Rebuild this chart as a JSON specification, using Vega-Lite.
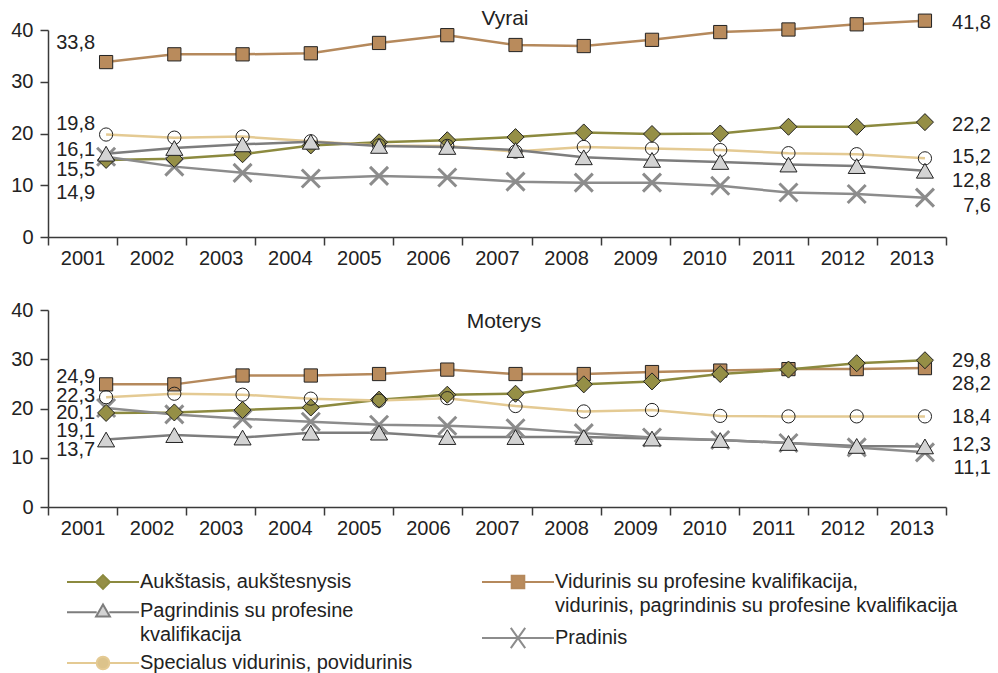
{
  "$schema": "https://vega.github.io/schema/vega-lite/v6.json",
  "padding": {"left": 10, "top": 8, "right": 5, "bottom": 0},
  "bounds": "flush",
  "spacing": 73,
  "config": {
    "font": "Liberation Sans",
    "view": {"stroke": null},
    "axis": {"domainColor": "#3a3a3a", "domainWidth": 1.5, "tickColor": "#3a3a3a", "tickWidth": 1.5, "labelFontSize": 20, "labelColor": "#222222", "labelFont": "Liberation Sans", "grid": false},
    "title": {"fontSize": 21, "fontWeight": "normal", "color": "#222222", "font": "Liberation Sans"},
    "text": {"fontSize": 20, "color": "#222222", "baseline": "middle", "align": "right"},
    "style": {"guide-label": {"lineHeight": 24}}
  },
  "resolve": {"scale": {"shape": "independent", "fill": "independent", "stroke": "independent"}},
  "data": {"values": [
    {"panel":"Vyrai","series":"V","year":2001,"value":33.8},{"panel":"Vyrai","series":"V","year":2002,"value":35.3},{"panel":"Vyrai","series":"V","year":2003,"value":35.3},{"panel":"Vyrai","series":"V","year":2004,"value":35.5},{"panel":"Vyrai","series":"V","year":2005,"value":37.5},{"panel":"Vyrai","series":"V","year":2006,"value":39.0},{"panel":"Vyrai","series":"V","year":2007,"value":37.1},{"panel":"Vyrai","series":"V","year":2008,"value":36.9},{"panel":"Vyrai","series":"V","year":2009,"value":38.1},{"panel":"Vyrai","series":"V","year":2010,"value":39.6},{"panel":"Vyrai","series":"V","year":2011,"value":40.1},{"panel":"Vyrai","series":"V","year":2012,"value":41.1},{"panel":"Vyrai","series":"V","year":2013,"value":41.8},
    {"panel":"Vyrai","series":"A","year":2001,"value":14.9},{"panel":"Vyrai","series":"A","year":2002,"value":15.1},{"panel":"Vyrai","series":"A","year":2003,"value":16.0},{"panel":"Vyrai","series":"A","year":2004,"value":17.7},{"panel":"Vyrai","series":"A","year":2005,"value":18.3},{"panel":"Vyrai","series":"A","year":2006,"value":18.7},{"panel":"Vyrai","series":"A","year":2007,"value":19.3},{"panel":"Vyrai","series":"A","year":2008,"value":20.2},{"panel":"Vyrai","series":"A","year":2009,"value":19.9},{"panel":"Vyrai","series":"A","year":2010,"value":20.0},{"panel":"Vyrai","series":"A","year":2011,"value":21.3},{"panel":"Vyrai","series":"A","year":2012,"value":21.3},{"panel":"Vyrai","series":"A","year":2013,"value":22.2},
    {"panel":"Vyrai","series":"S","year":2001,"value":19.8},{"panel":"Vyrai","series":"S","year":2002,"value":19.2},{"panel":"Vyrai","series":"S","year":2003,"value":19.4},{"panel":"Vyrai","series":"S","year":2004,"value":18.5},{"panel":"Vyrai","series":"S","year":2005,"value":17.7},{"panel":"Vyrai","series":"S","year":2006,"value":17.6},{"panel":"Vyrai","series":"S","year":2007,"value":16.5},{"panel":"Vyrai","series":"S","year":2008,"value":17.4},{"panel":"Vyrai","series":"S","year":2009,"value":17.1},{"panel":"Vyrai","series":"S","year":2010,"value":16.8},{"panel":"Vyrai","series":"S","year":2011,"value":16.2},{"panel":"Vyrai","series":"S","year":2012,"value":16.0},{"panel":"Vyrai","series":"S","year":2013,"value":15.2},
    {"panel":"Vyrai","series":"Pg","year":2001,"value":16.1},{"panel":"Vyrai","series":"Pg","year":2002,"value":17.2},{"panel":"Vyrai","series":"Pg","year":2003,"value":17.9},{"panel":"Vyrai","series":"Pg","year":2004,"value":18.4},{"panel":"Vyrai","series":"Pg","year":2005,"value":17.6},{"panel":"Vyrai","series":"Pg","year":2006,"value":17.4},{"panel":"Vyrai","series":"Pg","year":2007,"value":16.8},{"panel":"Vyrai","series":"Pg","year":2008,"value":15.4},{"panel":"Vyrai","series":"Pg","year":2009,"value":14.9},{"panel":"Vyrai","series":"Pg","year":2010,"value":14.5},{"panel":"Vyrai","series":"Pg","year":2011,"value":14.0},{"panel":"Vyrai","series":"Pg","year":2012,"value":13.7},{"panel":"Vyrai","series":"Pg","year":2013,"value":12.8},
    {"panel":"Vyrai","series":"Pr","year":2001,"value":15.5},{"panel":"Vyrai","series":"Pr","year":2002,"value":13.6},{"panel":"Vyrai","series":"Pr","year":2003,"value":12.4},{"panel":"Vyrai","series":"Pr","year":2004,"value":11.3},{"panel":"Vyrai","series":"Pr","year":2005,"value":11.8},{"panel":"Vyrai","series":"Pr","year":2006,"value":11.5},{"panel":"Vyrai","series":"Pr","year":2007,"value":10.7},{"panel":"Vyrai","series":"Pr","year":2008,"value":10.5},{"panel":"Vyrai","series":"Pr","year":2009,"value":10.5},{"panel":"Vyrai","series":"Pr","year":2010,"value":9.9},{"panel":"Vyrai","series":"Pr","year":2011,"value":8.6},{"panel":"Vyrai","series":"Pr","year":2012,"value":8.3},{"panel":"Vyrai","series":"Pr","year":2013,"value":7.6},
    {"panel":"Moterys","series":"V","year":2001,"value":24.9},{"panel":"Moterys","series":"V","year":2002,"value":24.9},{"panel":"Moterys","series":"V","year":2003,"value":26.7},{"panel":"Moterys","series":"V","year":2004,"value":26.7},{"panel":"Moterys","series":"V","year":2005,"value":27.0},{"panel":"Moterys","series":"V","year":2006,"value":27.9},{"panel":"Moterys","series":"V","year":2007,"value":27.0},{"panel":"Moterys","series":"V","year":2008,"value":27.0},{"panel":"Moterys","series":"V","year":2009,"value":27.4},{"panel":"Moterys","series":"V","year":2010,"value":27.7},{"panel":"Moterys","series":"V","year":2011,"value":28.0},{"panel":"Moterys","series":"V","year":2012,"value":28.0},{"panel":"Moterys","series":"V","year":2013,"value":28.2},
    {"panel":"Moterys","series":"A","year":2001,"value":19.1},{"panel":"Moterys","series":"A","year":2002,"value":19.2},{"panel":"Moterys","series":"A","year":2003,"value":19.7},{"panel":"Moterys","series":"A","year":2004,"value":20.2},{"panel":"Moterys","series":"A","year":2005,"value":21.8},{"panel":"Moterys","series":"A","year":2006,"value":22.8},{"panel":"Moterys","series":"A","year":2007,"value":23.0},{"panel":"Moterys","series":"A","year":2008,"value":24.9},{"panel":"Moterys","series":"A","year":2009,"value":25.5},{"panel":"Moterys","series":"A","year":2010,"value":27.0},{"panel":"Moterys","series":"A","year":2011,"value":27.9},{"panel":"Moterys","series":"A","year":2012,"value":29.2},{"panel":"Moterys","series":"A","year":2013,"value":29.8},
    {"panel":"Moterys","series":"S","year":2001,"value":22.3},{"panel":"Moterys","series":"S","year":2002,"value":23.0},{"panel":"Moterys","series":"S","year":2003,"value":22.8},{"panel":"Moterys","series":"S","year":2004,"value":22.0},{"panel":"Moterys","series":"S","year":2005,"value":21.6},{"panel":"Moterys","series":"S","year":2006,"value":22.1},{"panel":"Moterys","series":"S","year":2007,"value":20.5},{"panel":"Moterys","series":"S","year":2008,"value":19.4},{"panel":"Moterys","series":"S","year":2009,"value":19.7},{"panel":"Moterys","series":"S","year":2010,"value":18.5},{"panel":"Moterys","series":"S","year":2011,"value":18.4},{"panel":"Moterys","series":"S","year":2012,"value":18.4},{"panel":"Moterys","series":"S","year":2013,"value":18.4},
    {"panel":"Moterys","series":"Pg","year":2001,"value":13.7},{"panel":"Moterys","series":"Pg","year":2002,"value":14.6},{"panel":"Moterys","series":"Pg","year":2003,"value":14.1},{"panel":"Moterys","series":"Pg","year":2004,"value":15.1},{"panel":"Moterys","series":"Pg","year":2005,"value":15.1},{"panel":"Moterys","series":"Pg","year":2006,"value":14.2},{"panel":"Moterys","series":"Pg","year":2007,"value":14.2},{"panel":"Moterys","series":"Pg","year":2008,"value":14.2},{"panel":"Moterys","series":"Pg","year":2009,"value":13.9},{"panel":"Moterys","series":"Pg","year":2010,"value":13.6},{"panel":"Moterys","series":"Pg","year":2011,"value":13.0},{"panel":"Moterys","series":"Pg","year":2012,"value":12.4},{"panel":"Moterys","series":"Pg","year":2013,"value":12.3},
    {"panel":"Moterys","series":"Pr","year":2001,"value":20.1},{"panel":"Moterys","series":"Pr","year":2002,"value":18.8},{"panel":"Moterys","series":"Pr","year":2003,"value":17.9},{"panel":"Moterys","series":"Pr","year":2004,"value":17.3},{"panel":"Moterys","series":"Pr","year":2005,"value":16.7},{"panel":"Moterys","series":"Pr","year":2006,"value":16.5},{"panel":"Moterys","series":"Pr","year":2007,"value":16.0},{"panel":"Moterys","series":"Pr","year":2008,"value":15.0},{"panel":"Moterys","series":"Pr","year":2009,"value":14.1},{"panel":"Moterys","series":"Pr","year":2010,"value":13.6},{"panel":"Moterys","series":"Pr","year":2011,"value":13.0},{"panel":"Moterys","series":"Pr","year":2012,"value":12.1},{"panel":"Moterys","series":"Pr","year":2013,"value":11.1}
  ]},
  "transform": [{"calculate": "replace(format(datum.value, '.1f'), '.', ',')", "as": "lbl"}],
  "vconcat": [
    {
      "width": 898, "height": 207,
      "title": {"text": "Vyrai", "offset": -34, "baseline": "alphabetic", "anchor": "middle", "frame": "group", "dx": 8},
      "transform": [{"filter": "datum.panel == 'Vyrai'"}],
      "layer": [
        {"mark": {"type": "point", "opacity": 0},
         "encoding": {
           "x": {"field": "year", "type": "ordinal", "scale": {"type": "band", "paddingInner": 0, "paddingOuter": 0}, "axis": {"title": null, "labelAngle": 0, "tickBand": "extent", "tickSize": 8, "labelPadding": 3}},
           "y": {"field": "value", "type": "quantitative", "scale": {"domain": [0, 40], "nice": false}, "axis": {"title": null, "values": [0, 10, 20, 30, 40], "tickSize": 8, "labelPadding": 7}}}},
        {"encoding": {
           "x": {"field": "year", "type": "ordinal", "scale": {"type": "point", "padding": 0.58, "align": 0.734}, "axis": null},
           "y": {"field": "value", "type": "quantitative"},
           "text": {"field": "lbl"}},
         "layer": [
           {"mark": {"type": "line", "strokeWidth": 2.5},
            "encoding": {"stroke": {"field": "series", "type": "nominal", "legend": null,
              "scale": {"domain": ["A", "V", "Pg", "Pr", "S"], "range": ["#8c8a3f", "#b5895c", "#7d7d7d", "#8c8c8c", "#e4ca93"]}}}},
           {"transform": [{"filter": "datum.series == 'Pr'"}],
            "mark": {"type": "point", "shape": "M-1,-1L1,1M-1,1L1,-1", "size": 324, "stroke": "#8c8c8c", "strokeWidth": 3, "filled": false, "opacity": 1}},
           {"transform": [{"filter": "datum.series != 'Pr'"}],
            "mark": {"type": "point", "filled": true, "stroke": "#222222", "strokeWidth": 1, "opacity": 1,
                     "size": {"expr": "datum.series=='A' || datum.series=='Pg' ? 290 : 175"}},
            "encoding": {
              "shape": {"field": "series", "type": "nominal", "legend": null, "scale": {"domain": ["A", "Pg", "S", "V"], "range": ["diamond", "triangle-up", "circle", "square"]}},
              "fill": {"field": "series", "type": "nominal", "legend": null, "scale": {"domain": ["A", "Pg", "S", "V"], "range": ["#958f46", "#d3d3d3", "transparent", "#b98b5c"]}}}},
           {"transform": [{"filter": "datum.year == 2001 && datum.series == 'V'"}], "mark": {"type": "text", "dx": -11, "dy": -19}},
           {"transform": [{"filter": "datum.year == 2001 && datum.series == 'S'"}], "mark": {"type": "text", "dx": -11, "dy": -11}},
           {"transform": [{"filter": "datum.year == 2001 && datum.series == 'Pg'"}], "mark": {"type": "text", "dx": -11, "dy": -4}},
           {"transform": [{"filter": "datum.year == 2001 && datum.series == 'Pr'"}], "mark": {"type": "text", "dx": -11, "dy": 13}},
           {"transform": [{"filter": "datum.year == 2001 && datum.series == 'A'"}], "mark": {"type": "text", "dx": -11, "dy": 33}},
           {"transform": [{"filter": "datum.year == 2013 && datum.series == 'V'"}], "mark": {"type": "text", "dx": 66, "dy": 2}},
           {"transform": [{"filter": "datum.year == 2013 && datum.series == 'A'"}], "mark": {"type": "text", "dx": 66, "dy": 3}},
           {"transform": [{"filter": "datum.year == 2013 && datum.series == 'S'"}], "mark": {"type": "text", "dx": 66, "dy": -1}},
           {"transform": [{"filter": "datum.year == 2013 && datum.series == 'Pg'"}], "mark": {"type": "text", "dx": 66, "dy": 10}},
           {"transform": [{"filter": "datum.year == 2013 && datum.series == 'Pr'"}], "mark": {"type": "text", "dx": 66, "dy": 8}}
         ]}
      ],
      "resolve": {"scale": {"x": "independent"}}
    },
    {
      "width": 898, "height": 197,
      "title": {"text": "Moterys", "offset": -49, "baseline": "alphabetic", "anchor": "middle", "frame": "group", "dx": 7},
      "transform": [{"filter": "datum.panel == 'Moterys'"}],
      "layer": [
        {"mark": {"type": "point", "opacity": 0},
         "encoding": {
           "x": {"field": "year", "type": "ordinal", "scale": {"type": "band", "paddingInner": 0, "paddingOuter": 0}, "axis": {"title": null, "labelAngle": 0, "tickBand": "extent", "tickSize": 8, "labelPadding": 3}},
           "y": {"field": "value", "type": "quantitative", "scale": {"domain": [0, 40], "nice": false}, "axis": {"title": null, "values": [0, 10, 20, 30, 40], "tickSize": 8, "labelPadding": 7}}}},
        {"encoding": {
           "x": {"field": "year", "type": "ordinal", "scale": {"type": "point", "padding": 0.58, "align": 0.734}, "axis": null},
           "y": {"field": "value", "type": "quantitative"},
           "text": {"field": "lbl"}},
         "layer": [
           {"mark": {"type": "line", "strokeWidth": 2.5},
            "encoding": {"stroke": {"field": "series", "type": "nominal", "legend": null,
              "scale": {"domain": ["A", "V", "Pg", "Pr", "S"], "range": ["#8c8a3f", "#b5895c", "#7d7d7d", "#8c8c8c", "#e4ca93"]}}}},
           {"transform": [{"filter": "datum.series == 'Pr'"}],
            "mark": {"type": "point", "shape": "M-1,-1L1,1M-1,1L1,-1", "size": 324, "stroke": "#8c8c8c", "strokeWidth": 3, "filled": false, "opacity": 1}},
           {"transform": [{"filter": "datum.series != 'Pr'"}],
            "mark": {"type": "point", "filled": true, "stroke": "#222222", "strokeWidth": 1, "opacity": 1,
                     "size": {"expr": "datum.series=='A' || datum.series=='Pg' ? 290 : 175"}},
            "encoding": {
              "shape": {"field": "series", "type": "nominal", "legend": null, "scale": {"domain": ["A", "Pg", "S", "V"], "range": ["diamond", "triangle-up", "circle", "square"]}},
              "fill": {"field": "series", "type": "nominal", "legend": null, "scale": {"domain": ["A", "Pg", "S", "V"], "range": ["#958f46", "#d3d3d3", "transparent", "#b98b5c"]}}}},
           {"transform": [{"filter": "datum.year == 2001 && datum.series == 'V'"}], "mark": {"type": "text", "dx": -11, "dy": -7}},
           {"transform": [{"filter": "datum.year == 2001 && datum.series == 'S'"}], "mark": {"type": "text", "dx": -11, "dy": -1}},
           {"transform": [{"filter": "datum.year == 2001 && datum.series == 'Pr'"}], "mark": {"type": "text", "dx": -11, "dy": 5}},
           {"transform": [{"filter": "datum.year == 2001 && datum.series == 'A'"}], "mark": {"type": "text", "dx": -11, "dy": 18}},
           {"transform": [{"filter": "datum.year == 2001 && datum.series == 'Pg'"}], "mark": {"type": "text", "dx": -11, "dy": 10}},
           {"transform": [{"filter": "datum.year == 2013 && datum.series == 'A'"}], "mark": {"type": "text", "dx": 66, "dy": 1}},
           {"transform": [{"filter": "datum.year == 2013 && datum.series == 'V'"}], "mark": {"type": "text", "dx": 66, "dy": 16}},
           {"transform": [{"filter": "datum.year == 2013 && datum.series == 'S'"}], "mark": {"type": "text", "dx": 66, "dy": 1}},
           {"transform": [{"filter": "datum.year == 2013 && datum.series == 'Pg'"}], "mark": {"type": "text", "dx": 66, "dy": -1}},
           {"transform": [{"filter": "datum.year == 2013 && datum.series == 'Pr'"}], "mark": {"type": "text", "dx": 66, "dy": 16}},
           {"transform": [{"filter": "false"}],
            "mark": {"type": "point", "filled": true, "opacity": 1, "strokeWidth": 2},
            "encoding": {
              "text": null,
              "shape": {"field": "series", "type": "nominal",
                "scale": {"domain": ["A", "Pg", "S"], "range": ["M-6,0H-1.15M1.15,0H6M0,-1.15L1.15,0L0,1.15L-1.15,0Z", "M-6,0.2H-1.05M1.05,0.2H6M0,-1.1L1.15,0.9H-1.15Z", "M-6,0H-1.05M1.05,0H6M-1.05,0A1.05,1.05,0,1,1,1.05,0A1.05,1.05,0,1,1,-1.05,0Z"]},
                "legend": {"title": null, "orient": "none", "legendX": 45, "legendY": 262,
                  "labelExpr": "datum.value=='A' ? 'Aukštasis, aukštesnysis' : datum.value=='Pg' ? ['Pagrindinis su profesine','kvalifikacija'] : 'Specialus vidurinis, povidurinis'",
                  "labelFontSize": 20, "labelColor": "#222222", "labelFont": "Liberation Sans", "labelLimit": 700, "labelOffset": 27, "labelBaseline": "middle",
                  "symbolSize": 144, "symbolStrokeWidth": 2, "rowPadding": 7, "padding": 0}},
              "fill": {"field": "series", "type": "nominal", "scale": {"domain": ["A", "Pg", "S"], "range": ["#958f46", "#d3d3d3", "#dcc38b"]}},
              "stroke": {"field": "series", "type": "nominal", "scale": {"domain": ["A", "Pg", "S"], "range": ["#8c8a3f", "#7d7d7d", "#e4ca93"]}}}},
           {"transform": [{"filter": "false"}],
            "mark": {"type": "point", "filled": true, "opacity": 1, "strokeWidth": 2},
            "encoding": {
              "text": null,
              "shape": {"field": "series", "type": "nominal",
                "scale": {"domain": ["V", "Pr"], "range": ["M-6,0H-1.05M1.05,0H6M-1.05,-1.05H1.05V1.05H-1.05Z", "M-6,0H6M-1.2,-1.7L1.2,1.7M-1.2,1.7L1.2,-1.7"]},
                "legend": {"title": null, "orient": "none", "legendX": 460, "legendY": 262,
                  "labelExpr": "datum.value=='V' ? ['Vidurinis su profesine kvalifikacija,','vidurinis, pagrindinis su profesine kvalifikacija'] : 'Pradinis'",
                  "labelFontSize": 20, "labelColor": "#222222", "labelFont": "Liberation Sans", "labelLimit": 700, "labelOffset": 27, "labelBaseline": "middle",
                  "symbolSize": 144, "symbolStrokeWidth": 2, "rowPadding": 7, "padding": 0}},
              "fill": {"field": "series", "type": "nominal", "scale": {"domain": ["V", "Pr"], "range": ["#b98b5c", "transparent"]}},
              "stroke": {"field": "series", "type": "nominal", "scale": {"domain": ["V", "Pr"], "range": ["#b5895c", "#8c8c8c"]}}}}
         ],
         "resolve": {"scale": {"shape": "independent", "fill": "independent", "stroke": "independent"}}}
      ],
      "resolve": {"scale": {"x": "independent"}}
    }
  ]
}
